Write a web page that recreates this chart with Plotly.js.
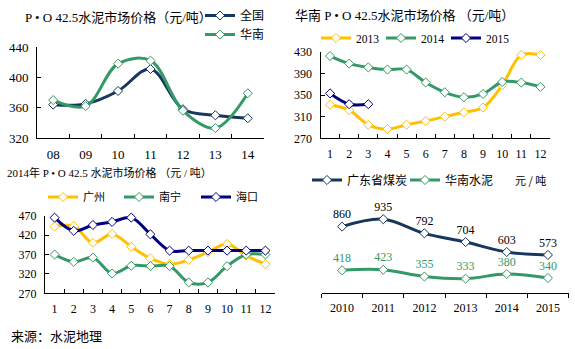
<!DOCTYPE html>
<html><head><meta charset="utf-8">
<script src="https://cdn.plot.ly/plotly-3.0.1.min.js"></script>
<style>html,body{margin:0;padding:0;background:#fff}#c{width:575px;height:349px}</style>
</head><body><div id="c"></div>
<script>
// Panel 1: P·O 42.5 price, national vs South China
const years1 = ['08','09','10','11','12','13','14'];
const national = [364, 365, 382, 411, 358, 350, 346];
const southChina = [370, 362, 418, 422, 356, 333, 379];
// Panel 2: South China monthly by year
const months = ['1','2','3','4','5','6','7','8','9','10','11','12'];
const sc2013 = [332, 322, 295, 287, 295, 302, 310, 318, 327, 368, 424, 424];
const sc2014 = [422, 408, 401, 397, 397, 373, 355, 346, 352, 374, 373, 365];
const sc2015 = [353, 333, 333];
// Panel 3: 2014 city prices
const guangzhou = [442, 443, 400, 423, 390, 360, 345, 356, 376, 397, 367, 345];
const nanning = [370, 351, 362, 321, 341, 340, 340, 298, 298, 340, 370, 370];
const haikou = [465, 431, 446, 454, 465, 422, 380, 380, 380, 380, 380, 380];
// Panel 4: Guangdong coal vs South China cement
const years4 = ['2010','2011','2012','2013','2014','2015'];
const coal = [860, 935, 792, 704, 603, 573];
const cement = [418, 423, 355, 333, 380, 340];

const NAVY = '#17375E', GREEN = '#339966', GOLD = '#FFC000', DNAVY = '#000080';
const FONT = 'Liberation Serif, "Noto Sans CJK SC", serif';
const CJK = '"Noto Sans CJK SC", Liberation Serif, sans-serif';

function tr(x, y, name, color, xa, ya, lg, extra) {
  return Object.assign({
    type: 'scatter', mode: 'lines+markers', x: x, y: y, name: name,
    xaxis: xa, yaxis: ya, legend: lg,
    line: {color: color, width: 3, shape: 'spline', smoothing: 1},
    marker: {symbol: 'diamond', size: 7, color: '#fff', line: {color: color, width: 1}},
    cliponaxis: false, hoverinfo: 'skip'
  }, extra || {});
}

const data = [
  tr(years1, national, '全国', NAVY, 'x', 'y', 'legend'),
  tr(years1, southChina, '华南', GREEN, 'x', 'y', 'legend'),
  tr(months, sc2013, '2013', GOLD, 'x2', 'y2', 'legend2'),
  tr(months, sc2014, '2014', GREEN, 'x2', 'y2', 'legend3'),
  tr(months.slice(0,3), sc2015, '2015', DNAVY, 'x2', 'y2', 'legend4'),
  tr(months, guangzhou, '广州', GOLD, 'x3', 'y3', 'legend5'),
  tr(months, nanning, '南宁', GREEN, 'x3', 'y3', 'legend6'),
  tr(months, haikou, '海口', DNAVY, 'x3', 'y3', 'legend7'),
  tr(years4, coal, '广东省煤炭', NAVY, 'x4', 'y4', 'legend8',
     {mode: 'lines+markers+text', text: coal.map(String), textposition: 'top center',
      textfont: {family: FONT, size: 12, color: '#000'}}),
  tr(years4, cement, '华南水泥', GREEN, 'x4', 'y4', 'legend9',
     {mode: 'lines+markers+text', text: cement.map(String), textposition: 'top center',
      textfont: {family: FONT, size: 12, color: GREEN}})
];

const W = 575, H = 349;
const px = v => v / W, py = v => 1 - v / H;

function xax(d, n, fs, ticks) {
  return {domain: [px(d[0]), px(d[1])], type: 'category', range: [-0.5, n - 0.5],
    tickson: 'boundaries', ticks: ticks, ticklen: 4, tickcolor: '#000', tickangle: 0,
    showline: true, linecolor: '#000', linewidth: 1, showgrid: false, zeroline: false,
    ticklabelstandoff: 4,
    tickfont: {family: FONT, size: fs, color: '#000'}, fixedrange: true};
}
function yax(d, r, dt, fs) {
  return {domain: [py(d[1]), py(d[0])], range: r, dtick: dt, tick0: r[0],
    ticks: 'inside', ticklen: 4, tickcolor: '#000', ticklabelstandoff: 5,
    showline: true, linecolor: '#000', linewidth: 1, showgrid: false, zeroline: false,
    tickfont: {family: FONT, size: fs, color: '#000'}, fixedrange: true};
}

const legBase = {orientation: 'h', bgcolor: 'rgba(0,0,0,0)', itemwidth: 30,
  font: {family: CJK, size: 12, color: '#000'}, xanchor: 'left', yanchor: 'middle',
  itemclick: false, itemdoubleclick: false};
const lg = (x, y, extra) => Object.assign({}, legBase, {x: px(x), y: py(y)}, extra || {});
const f11 = {font: {family: CJK, size: 11, color: '#000'}};
const s11 = {font: {family: FONT, size: 11.5, color: '#000'}};

const layout = {
  width: W, height: H, margin: {l: 0, r: 0, t: 0, b: 0},
  paper_bgcolor: '#fff', plot_bgcolor: 'rgba(0,0,0,0)', showlegend: true,
  xaxis: Object.assign(xax([37, 264], 7, 13, 'inside'), {anchor: 'y'}),
  yaxis: Object.assign(yax([47, 138], [320, 440], 40, 13), {anchor: 'x'}),
  xaxis2: Object.assign(xax([320.5, 550], 12, 12, 'inside'), {anchor: 'y2'}),
  yaxis2: Object.assign(yax([51.7, 138.3], [270, 430], 40, 12), {anchor: 'x2'}),
  xaxis3: Object.assign(xax([45, 275], 12, 12, 'inside'), {anchor: 'y3'}),
  yaxis3: Object.assign(yax([215.7, 293.3], [270, 470], 50, 12), {anchor: 'x3'}),
  xaxis4: Object.assign(xax([321.5, 568.5], 6, 12, 'outside'), {anchor: 'y4'}),
  yaxis4: {domain: [py(292.7), py(213)], range: [191, 998], visible: false, anchor: 'x4', fixedrange: true},
  legend: lg(200, 25, {orientation: 'v', tracegroupgap: 0}),
  legend2: lg(316, 38, s11), legend3: lg(381, 38, s11), legend4: lg(446, 38, s11),
  legend5: lg(43, 197, f11), legend6: lg(119, 197, f11), legend7: lg(196, 197, f11),
  legend8: lg(307, 180), legend9: lg(405, 180),
  annotations: [
    {text: 'P • O 42.5水泥市场价格（元/吨）', x: px(23), y: py(17), xref: 'paper', yref: 'paper', xanchor: 'left', yanchor: 'middle', showarrow: false, font: {family: FONT, size: 13, color: '#000'}},
    {text: '华南 P • O 42.5水泥市场价格 （元/吨）', x: px(293), y: py(15), xref: 'paper', yref: 'paper', xanchor: 'left', yanchor: 'middle', showarrow: false, font: {family: FONT, size: 13, color: '#000'}},
    {text: '2014年 P • O 42.5 水泥市场价格 （元 / 吨）', x: px(5), y: py(172), xref: 'paper', yref: 'paper', xanchor: 'left', yanchor: 'middle', showarrow: false, font: {family: FONT, size: 11, color: '#000'}},
    {text: '元 / 吨', x: px(513), y: py(180), xref: 'paper', yref: 'paper', xanchor: 'left', yanchor: 'middle', showarrow: false, font: {family: CJK, size: 11, color: '#000'}},
    {text: '来源：水泥地理', x: px(9), y: py(335), xref: 'paper', yref: 'paper', xanchor: 'left', yanchor: 'middle', showarrow: false, font: {family: CJK, size: 13, color: '#000'}}
  ]
};

Plotly.newPlot('c', data, layout, {displayModeBar: false, staticPlot: true});
</script></body></html>
